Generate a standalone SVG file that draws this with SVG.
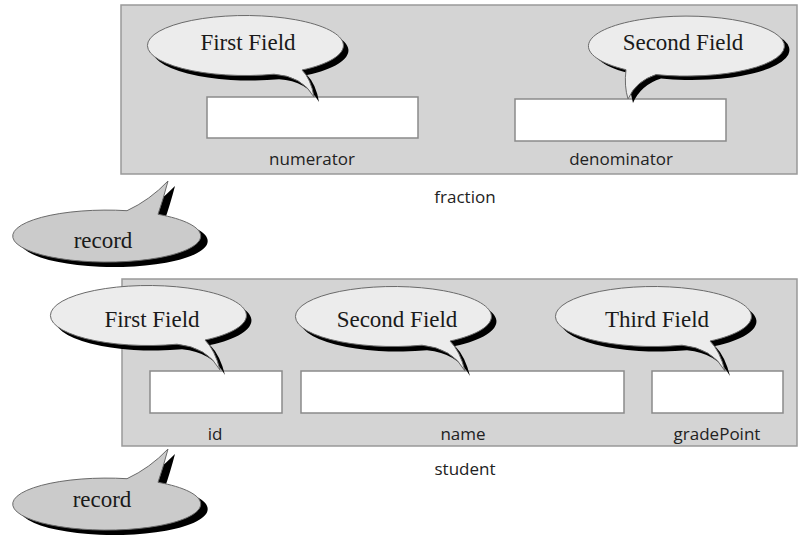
<svg xmlns="http://www.w3.org/2000/svg" xmlns:xlink="http://www.w3.org/1999/xlink" width="798" height="537" viewBox="0 0 798 537">
  <style>
    .panel { fill: #d4d4d4; stroke: #999999; stroke-width: 1.5; }
    .box { fill: #ffffff; stroke: #8a8a8a; stroke-width: 1.5; }
    .lbl { font-family: "Open Sans", "DejaVu Sans", sans-serif; font-size: 17px; fill: #222222; text-anchor: middle; }
    .btxt { font-family: "Liberation Serif", "Times New Roman", serif; font-size: 23px; fill: #1a1a1a; text-anchor: middle; }
    .shadow { fill: #000000; stroke: none; }
    .fb { fill: #ececec; stroke: #6a6a6a; stroke-width: 1; }
    .rb { fill: #cbcbcb; stroke: #6a6a6a; stroke-width: 1; }
  </style>
  <defs>
    <path id="bR" d="M50,25 A98,30 0 1 0 22,29.2 Q50,31 62,52 Q59,34 50,25 Z"/>
    <path id="bR2" d="M50,25 A98,30 0 1 0 22,29.2 Q52,32 65,55 Q60,35 50,25 Z"/>
    <path id="bL" d="M-30,28.6 A98,30 0 1 0 -60,23.7 Q-62,40 -58,53 Q-50,35 -30,28.6 Z"/>
    <path id="rec" d="M52,-21.7 A94,26 0 1 1 21,-25.3 Q44,-36 62,-55 Q57,-36 52,-21.7 Z"/>
  </defs>

  <!-- fraction record -->
  <g id="fraction">
    <rect class="panel" x="121" y="5" width="676" height="169"/>
    <text class="lbl" x="465" y="203">fraction</text>
  </g>
  <g id="numerator">
    <rect class="box" x="207" y="97" width="211" height="41"/>
    <text class="lbl" x="312" y="165">numerator</text>
  </g>
  <g id="denominator">
    <rect class="box" x="515" y="99" width="211" height="42"/>
    <text class="lbl" x="621" y="165">denominator</text>
  </g>
  <g id="bubble-first-field-1">
    <use href="#bR" class="shadow" transform="translate(257,50)"/>
    <use href="#bR" class="fb" transform="translate(252,45)"/>
    <text class="btxt" x="248" y="50">First Field</text>
  </g>
  <g id="bubble-second-field-1">
    <use href="#bL" class="shadow" transform="translate(691,50)"/>
    <use href="#bL" class="fb" transform="translate(686,46)"/>
    <text class="btxt" x="683" y="50">Second Field</text>
  </g>
  <g id="bubble-record-1">
    <use href="#rec" class="shadow" transform="translate(113,241)"/>
    <use href="#rec" class="rb" transform="translate(106,236)"/>
    <text class="btxt" x="103" y="248">record</text>
  </g>

  <!-- student record -->
  <g id="student">
    <rect class="panel" x="122" y="279" width="675" height="167"/>
    <text class="lbl" x="465" y="475">student</text>
  </g>
  <g id="id">
    <rect class="box" x="150" y="371" width="132" height="42"/>
    <text class="lbl" x="215" y="440">id</text>
  </g>
  <g id="name">
    <rect class="box" x="301" y="371" width="323" height="42"/>
    <text class="lbl" x="463" y="440">name</text>
  </g>
  <g id="gradePoint">
    <rect class="box" x="652" y="371" width="131" height="42"/>
    <text class="lbl" x="717" y="440">gradePoint</text>
  </g>
  <g id="bubble-first-field-2">
    <use href="#bR2" class="shadow" transform="translate(160,320)"/>
    <use href="#bR2" class="fb" transform="translate(155,315)"/>
    <text class="btxt" x="152" y="327">First Field</text>
  </g>
  <g id="bubble-second-field-2">
    <use href="#bR2" class="shadow" transform="translate(405,321)"/>
    <use href="#bR2" class="fb" transform="translate(400,316)"/>
    <text class="btxt" x="397" y="327">Second Field</text>
  </g>
  <g id="bubble-third-field-2">
    <use href="#bR2" class="shadow" transform="translate(665,321)"/>
    <use href="#bR2" class="fb" transform="translate(660,316)"/>
    <text class="btxt" x="657" y="327">Third Field</text>
  </g>
  <g id="bubble-record-2">
    <use href="#rec" class="shadow" transform="translate(113,509)"/>
    <use href="#rec" class="rb" transform="translate(106,504)"/>
    <text class="btxt" x="102" y="507">record</text>
  </g>

  <g id="connectors"/>
</svg>
